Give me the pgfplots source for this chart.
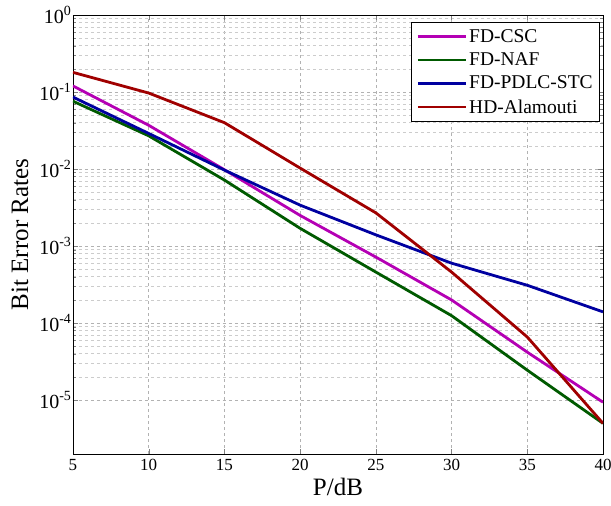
\documentclass[border=0pt]{standalone}
\usepackage{fontspec}
\setmainfont{Liberation Serif}
\usepackage{pgfplots}
\pgfplotsset{compat=1.18}
\usetikzlibrary{calc}
\definecolor{cscmag}{HTML}{B400B4}
\definecolor{nafgreen}{HTML}{005A00}
\definecolor{pdlcblue}{HTML}{0000A0}
\definecolor{hdred}{HTML}{A00000}

\begin{document}
\begin{tikzpicture}
\begin{axis}[
    name=ax,
    scale only axis,
    width=530pt, height=439pt,
    ymode=log,
    xmin=5, xmax=40,
    ymin=2e-6, ymax=1,
    xtick={5,10,...,40},
    ytick={1e-5,1e-4,1e-3,1e-2,1e-1,1},
    yticklabels={10\textsuperscript{-5},10\textsuperscript{-4},10\textsuperscript{-3},10\textsuperscript{-2},10\textsuperscript{-1},10\textsuperscript{0}},
    /pgf/number format/assume math mode=true,
    xticklabel style={font=\fontsize{17}{19}\selectfont, yshift=-2pt},
    yticklabel style={font=\fontsize{20}{22}\selectfont, xshift=2pt},
    label style={font=\fontsize{25}{27}\selectfont},
    xlabel={P/dB},
    ylabel={Bit Error Rates},
    xlabel style={yshift=0pt},
    ylabel style={yshift=4pt},
    tick align=inside,
    major tick length=5pt,
    minor tick length=3pt,
    axis line style={line width=0.8pt},
    grid=both,
    major grid style={dashed, gray!60, line width=0.6pt},
    minor grid style={dashed, gray!40, line width=0.6pt},
    legend cell align=left,
    legend style={at={(1,1)}, anchor=north east, xshift=-3pt, yshift=-7pt,
        font=\fontsize{19.5}{21}\selectfont, draw=black, line width=0.6pt,
        row sep=5pt, inner sep=5pt},
    legend image code/.code={\draw[#1] (0pt,0pt) -- (48pt,0pt);},
    every axis plot/.append style={line width=2.8pt},
]
\addplot[color=cscmag] coordinates {
    (5,0.12) (10,0.037) (15,0.0098) (20,0.0025) (25,7.2e-4) (30,2.0e-4) (35,4.2e-5) (40,9.4e-6)
};
\addlegendentry{FD-CSC}
\addplot[color=nafgreen] coordinates {
    (5,0.076) (10,0.027) (15,0.0072) (20,0.0017) (25,4.6e-4) (30,1.25e-4) (35,2.45e-5) (40,5.0e-6)
};
\addlegendentry{FD-NAF}
\addplot[color=pdlcblue] coordinates {
    (5,0.086) (10,0.029) (15,0.0097) (20,0.0034) (25,1.4e-3) (30,6.0e-4) (35,3.1e-4) (40,1.4e-4)
};
\addlegendentry{FD-PDLC-STC}
\addplot[color=hdred] coordinates {
    (5,0.18) (10,0.097) (15,0.040) (20,0.0103) (25,2.7e-3) (30,4.6e-4) (35,6.6e-5) (40,5.0e-6)
};
\addlegendentry{HD-Alamouti}
\end{axis}
\pgfresetboundingbox
\path ($(ax.south west)+(-73pt,-52pt)$) rectangle ($(ax.north east)+(8pt,15pt)$);
\end{tikzpicture}
\end{document}
